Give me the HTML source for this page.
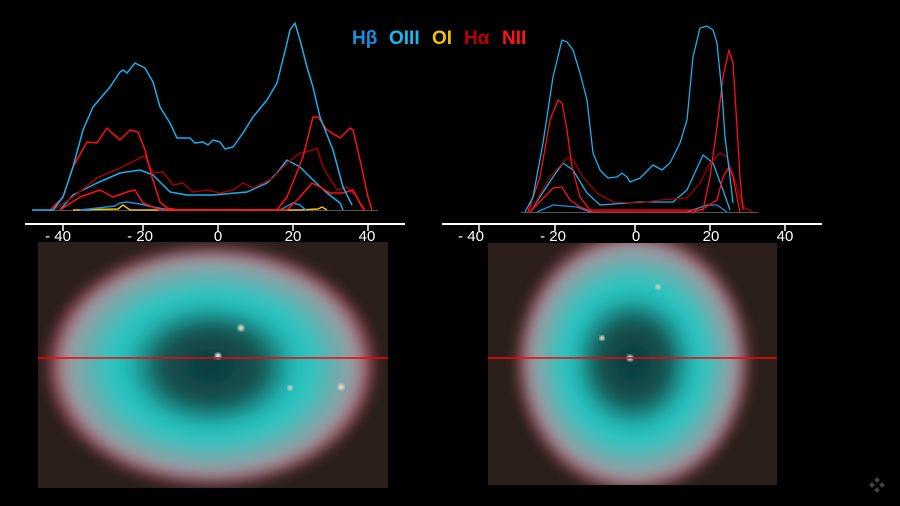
<!DOCTYPE html>
<html><head><meta charset="utf-8"><style>
html,body{margin:0;padding:0;background:#000;}
svg{display:block}
</style></head><body>
<svg width="900" height="506" viewBox="0 0 900 506" xmlns="http://www.w3.org/2000/svg">
<defs>
<radialGradient id="gL" cx="0.5" cy="0.5" r="0.5">
<stop offset="0" stop-color="#0e3a3e"/>
<stop offset="0.3" stop-color="#155250"/>
<stop offset="0.5" stop-color="#22b8b4"/>
<stop offset="0.62" stop-color="#2ec6c2"/>
<stop offset="0.76" stop-color="#6aaaac"/>
<stop offset="0.88" stop-color="#9a9fa4"/>
<stop offset="0.95" stop-color="#a84a5e"/>
<stop offset="1" stop-color="#2a1e1a"/>
</radialGradient>
<filter id="bl"><feGaussianBlur stdDeviation="7"/></filter>
<filter id="bs"><feGaussianBlur stdDeviation="1.2"/></filter>
</defs>
<rect width="900" height="506" fill="#000"/>

<g font-family="Liberation Sans, DejaVu Sans, sans-serif" font-weight="bold" font-size="19">
<text x="352" y="44" fill="#1a8fe0">Hβ</text>
<text x="389" y="44" fill="#19b8f2">OIII</text>
<text x="432" y="44" fill="#f2c200">OI</text>
<text x="464" y="44" fill="#c00000">Hα</text>
<text x="502" y="44" fill="#ff1414">NII</text>
</g>

<line x1="32" y1="210.5" x2="378" y2="210.5" stroke="#555" stroke-width="1"/>
<g fill="none" stroke-width="1.5" stroke-linejoin="round">
<polyline stroke="#f2c200" points="73,210 118,209 123,205 130,210 300,210 318,209 322,207 327,210"/>
<polyline stroke="#1a8fe0" points="80,210 115,206 120,203 127,202 140,204 153,207 170,210 280,210 293,203 300,205 306,210"/>
<polyline stroke="#19b0ec" points="60,210 73,195 97,183 120,173 140,170 153,175 170,192 187,195 213,195 247,192 267,183 277,173 287,160 300,167 313,180 327,193 340,203 343,210"/>
<polyline stroke="#a00000" points="53,210 73,197 97,178 120,168 140,158 145,156 153,173 163,172 173,185 183,183 193,192 207,190 220,193 233,190 243,183 253,188 273,178 287,163 300,153 313,150 317,148 323,167 337,190 347,187 357,197 363,210"/>
<polyline stroke="#ff1010" points="60,210 80,197 100,190 113,197 127,192 135,190 143,203 160,210 287,210 300,197 312,183 320,187 330,193 343,193 353,190 360,203 365,210"/>
<polyline stroke="#ff1010" points="50,210 63,197 73,167 87,142 97,143 107,128 112,133 120,140 130,130 138,132 145,150 152,177 160,202 167,208 180,210 277,210 287,197 303,157 313,117 318,117 327,130 340,138 350,128 353,130 360,160 368,197 372,210"/>
<polyline stroke="#19b0ec" points="32,210 53,210 63,197 73,167 83,130 93,107 110,87 120,72 123,70 127,73 135,63 145,68 153,82 160,107 170,123 177,138 190,138 195,143 203,142 208,145 213,140 220,142 225,149 233,147 243,133 253,117 267,100 277,83 287,43 290,30 295,23 300,40 307,67 313,87 320,117 333,150 343,187 352,205"/>
</g>
<line x1="25" y1="224" x2="405" y2="224" stroke="#fff" stroke-width="2"/>
<g stroke="#fff" stroke-width="1.5"><line x1="63" y1="224" x2="63" y2="231"/><line x1="143" y1="224" x2="143" y2="231"/><line x1="218" y1="224" x2="218" y2="231"/><line x1="293" y1="224" x2="293" y2="231"/><line x1="368" y1="224" x2="368" y2="231"/></g>
<g fill="#fff" font-family="Liberation Sans, sans-serif" font-size="15" text-anchor="middle">
<text x="58" y="241">- 40</text><text x="140" y="241">- 20</text><text x="218" y="241">0</text><text x="293" y="241">20</text><text x="367" y="241">40</text>
</g>

<line x1="521" y1="212.5" x2="758" y2="212.5" stroke="#555" stroke-width="1"/>
<g fill="none" stroke-width="1.3" stroke-linejoin="round">
<polyline stroke="#1a8fe0" points="537,212 553,205 577,207 590,212 687,212 707,205 717,205 727,212"/>
<polyline stroke="#19b0ec" points="530,212 553,177 563,163 573,170 587,193 600,205 640,202 673,202 687,190 703,155 713,163 723,190 730,210"/>
<polyline stroke="#a00000" points="530,212 550,177 568,157 573,160 583,177 597,193 613,202 640,203 660,200 687,198 700,183 710,163 720,153 727,157 737,187 743,207 753,212"/>
<polyline stroke="#ff1010" points="530,212 553,188 562,187 570,200 580,207 593,212 693,212 703,209 717,200 723,177 729,167 733,177 740,212"/>
<polyline stroke="#ff1010" points="528,212 540,177 550,120 558,100 562,103 567,130 572,167 580,197 590,210 703,210 710,177 717,127 723,77 729,50 733,63 737,127 740,177 743,210"/>
<polyline stroke="#19b0ec" points="525,212 533,197 543,143 553,77 562,40 567,42 573,50 580,73 587,100 593,153 600,170 608,178 617,177 622,173 627,177 630,182 640,178 653,165 662,170 670,163 680,143 687,120 693,57 700,28 707,26 713,30 717,43 722,93 725,137 730,177 733,203"/>
</g>
<line x1="442" y1="224" x2="822" y2="224" stroke="#fff" stroke-width="2"/>
<g stroke="#fff" stroke-width="1.5"><line x1="479" y1="224" x2="479" y2="231"/><line x1="555" y1="224" x2="555" y2="231"/><line x1="635" y1="224" x2="635" y2="231"/><line x1="710" y1="224" x2="710" y2="231"/><line x1="785" y1="224" x2="785" y2="231"/></g>
<g fill="#fff" font-family="Liberation Sans, sans-serif" font-size="15" text-anchor="middle">
<text x="471" y="241">- 40</text><text x="553" y="241">- 20</text><text x="636" y="241">0</text><text x="711" y="241">20</text><text x="785" y="241">40</text>
</g>

<svg x="38" y="242" width="350" height="246" viewBox="38 242 350 246">
<rect x="38" y="242" width="350" height="246" fill="#2a1f1a"/>
<ellipse cx="211" cy="366" rx="164" ry="120" fill="url(#gL)" filter="url(#bl)"/>
<circle cx="218" cy="356" r="3" fill="#d8eeff" filter="url(#bs)"/>
<circle cx="241" cy="328" r="3" fill="#e8e0c8" filter="url(#bs)"/>
<circle cx="290" cy="388" r="2.5" fill="#d0d8c0" filter="url(#bs)"/>
<circle cx="341" cy="387" r="3" fill="#f0d8c0" filter="url(#bs)"/>
</svg>
<line x1="38" y1="358" x2="388" y2="358" stroke="#ff0000" stroke-width="1.6"/>

<svg x="488" y="243" width="289" height="242" viewBox="488 243 289 242">
<rect x="488" y="243" width="289" height="242" fill="#2a1f1a"/>
<ellipse cx="633" cy="362" rx="116" ry="130" fill="url(#gL)" filter="url(#bl)"/>
<circle cx="630" cy="358" r="3" fill="#d8eeff" filter="url(#bs)"/>
<circle cx="602" cy="338" r="2.5" fill="#e8e0c8" filter="url(#bs)"/>
<circle cx="658" cy="287" r="2.5" fill="#d0d8c0" filter="url(#bs)"/>
</svg>
<line x1="488" y1="358" x2="777" y2="358" stroke="#ff0000" stroke-width="1.6"/>

<g fill="#444"><rect x="875" y="478" width="4" height="4" transform="rotate(45 877 480)"/><rect x="870" y="483" width="4" height="4" transform="rotate(45 872 485)"/><rect x="880" y="483" width="4" height="4" transform="rotate(45 882 485)"/><rect x="875" y="488" width="4" height="4" transform="rotate(45 877 490)"/></g>
</svg>
</body></html>
